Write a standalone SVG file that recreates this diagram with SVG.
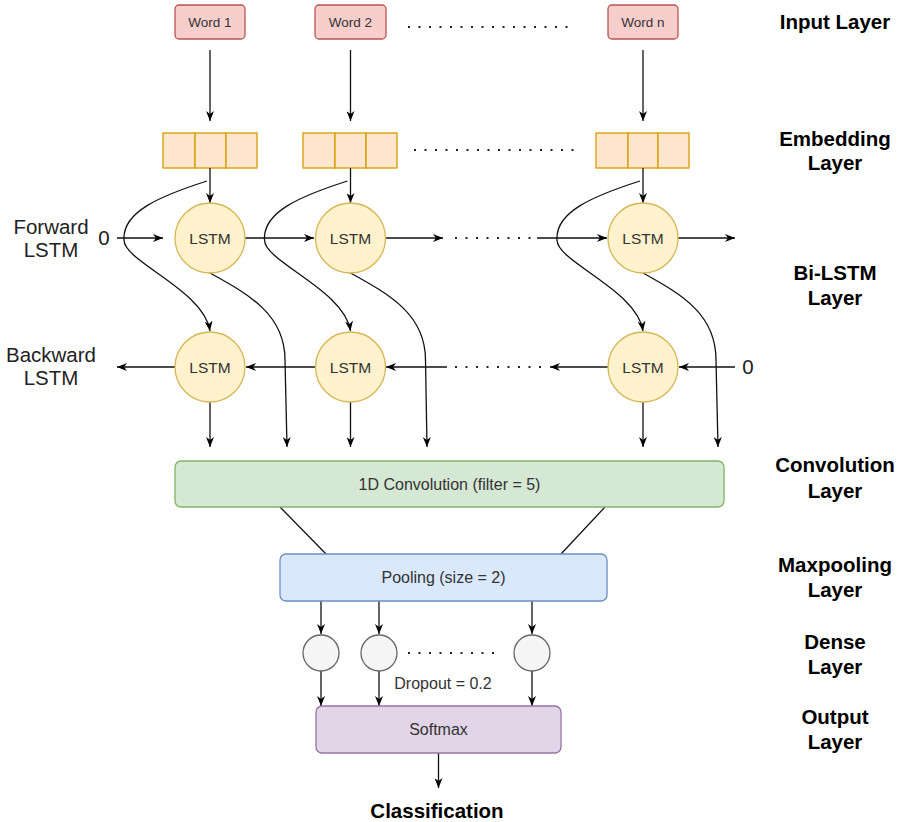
<svg xmlns="http://www.w3.org/2000/svg" width="900" height="822" viewBox="0 0 900 822">
<defs>
<marker id="ah" viewBox="0 0 10 8" refX="10" refY="4" markerWidth="10" markerHeight="8" markerUnits="userSpaceOnUse" orient="auto"><path d="M0,0 L10,4 L0,8 L3,4 z" fill="#000"/></marker>
<style>
text{font-family:"Liberation Sans",Arial,sans-serif;}
.word{fill:#f8cecc;stroke:#b85450;stroke-width:1.3;}
.emb{fill:#ffe6cc;stroke:#d79b00;stroke-width:1.3;}
.lstm{fill:#fff2cc;stroke:#d6b656;stroke-width:1.3;}
.conv{fill:#d5e8d4;stroke:#82b366;stroke-width:1.3;}
.pool{fill:#dae8fc;stroke:#6c8ebf;stroke-width:1.3;}
.dense{fill:#f5f5f5;stroke:#666666;stroke-width:1.3;}
.soft{fill:#e1d5e7;stroke:#9673a6;stroke-width:1.3;}
.wt{font-size:13.5px;fill:#333;text-anchor:middle;}
.lt{font-size:15.5px;fill:#333;text-anchor:middle;}
.nt{font-size:16px;fill:#333;text-anchor:middle;}
.lab{font-size:20.5px;font-weight:bold;fill:#000;text-anchor:middle;}
.side{font-size:20.5px;fill:#222;text-anchor:middle;}
.c{fill:none;stroke:#111;stroke-width:1.3;}
.a{fill:none;stroke:#111;stroke-width:1.3;marker-end:url(#ah);}
.dot{fill:none;stroke:#222;stroke-width:2;stroke-dasharray:2 8.5;}
</style>
</defs>
<rect width="900" height="822" fill="#fff"/>

<g id="word1"><rect class="word" x="175" y="5" width="70" height="34" rx="4"/><text class="wt" x="210" y="27">Word 1</text></g>
<g id="word2"><rect class="word" x="315" y="5" width="71" height="34" rx="4"/><text class="wt" x="350.5" y="27">Word 2</text></g>
<g id="wordn"><rect class="word" x="608" y="5" width="70" height="34" rx="4"/><text class="wt" x="643" y="27">Word n</text></g>

<g id="emb1"><rect class="emb" x="163" y="133" width="32" height="35"/><rect class="emb" x="195" y="133" width="31" height="35"/><rect class="emb" x="226" y="133" width="31" height="35"/></g>
<g id="emb2"><rect class="emb" x="303" y="133" width="32" height="35"/><rect class="emb" x="335" y="133" width="31" height="35"/><rect class="emb" x="366" y="133" width="31" height="35"/></g>
<g id="embn"><rect class="emb" x="596" y="133" width="32" height="35"/><rect class="emb" x="628" y="133" width="30" height="35"/><rect class="emb" x="658" y="133" width="31" height="35"/></g>

<g id="connectors">
<path class="a" d="M210,50 V121"/>
<path class="a" d="M350.5,50 V121"/>
<path class="a" d="M643,50 V121"/>
<path class="dot" d="M408,27 H572"/>
<path class="dot" d="M414,150 H578"/>

<path class="a" d="M210,168 V203"/>
<path class="a" d="M350.5,168 V203"/>
<path class="a" d="M643,168 V203"/>

<path class="a" d="M207,181 C160,196 122,212 124,240 C124,262 204,290 210,331"/>
<path class="a" d="M347.5,181 C300.5,196 262.5,212 264.5,240 C264.5,262 344.5,290 350.5,331"/>
<path class="a" d="M640,181 C593,196 555,212 557,240 C557,262 637,290 643,331"/>

<path class="a" d="M210,273 C250,295 285,315 285,360 L287,447"/>
<path class="a" d="M350.5,273 C390.5,295 425.5,315 425.5,360 L427,447"/>
<path class="a" d="M643,273 C683,295 716,315 716,360 L718,447"/>

<path class="a" d="M210,402 V447"/>
<path class="a" d="M350.5,402 V447"/>
<path class="a" d="M643,402 V447"/>

<path class="a" d="M117,238 H163"/>
<path class="a" d="M245,238 H314"/>
<path class="a" d="M385.5,238 H443"/>
<path class="dot" d="M455,238 H534"/>
<path class="a" d="M537,238 H607"/>
<path class="a" d="M678,238 H735"/>

<path class="a" d="M735,367 H679"/>
<path class="a" d="M608,367 H550"/>
<path class="dot" d="M455,367 H544"/>
<path class="a" d="M447,367 H386"/>
<path class="a" d="M315.5,367 H246"/>
<path class="a" d="M175,367 H117"/>

<path class="c" d="M280,507 L327,555"/>
<path class="c" d="M605,507 L561,554"/>

<path class="a" d="M321,601 V634"/>
<path class="a" d="M379,601 V634"/>
<path class="a" d="M532,601 V634"/>
<path class="dot" d="M408,653 H498"/>
<path class="a" d="M321,671 V706"/>
<path class="a" d="M379,671 V706"/>
<path class="a" d="M532,671 V706"/>
<path class="a" d="M438.5,753 V788"/>
</g>

<g id="lstm_f1"><circle class="lstm" cx="210" cy="238" r="35"/><text class="lt" x="210" y="243.5">LSTM</text></g>
<g id="lstm_f2"><circle class="lstm" cx="350.5" cy="238" r="35"/><text class="lt" x="350.5" y="243.5">LSTM</text></g>
<g id="lstm_fn"><circle class="lstm" cx="643" cy="238" r="35"/><text class="lt" x="643" y="243.5">LSTM</text></g>
<g id="lstm_b1"><circle class="lstm" cx="210" cy="367" r="35"/><text class="lt" x="210" y="372.5">LSTM</text></g>
<g id="lstm_b2"><circle class="lstm" cx="350.5" cy="367" r="35"/><text class="lt" x="350.5" y="372.5">LSTM</text></g>
<g id="lstm_bn"><circle class="lstm" cx="643" cy="367" r="35"/><text class="lt" x="643" y="372.5">LSTM</text></g>

<g id="conv"><rect class="conv" x="175" y="461" width="549" height="46" rx="6"/><text class="nt" x="449.5" y="490">1D Convolution (filter = 5)</text></g>
<g id="pool"><rect class="pool" x="280" y="554" width="327" height="47" rx="6"/><text class="nt" x="443.5" y="583">Pooling (size = 2)</text></g>
<g id="dense1"><circle class="dense" cx="321" cy="653" r="18"/></g>
<g id="dense2"><circle class="dense" cx="379" cy="653" r="18"/></g>
<g id="densen"><circle class="dense" cx="532" cy="653" r="18"/></g>
<g id="dropout"><text class="nt" x="443" y="689">Dropout = 0.2</text></g>
<g id="softmax"><rect class="soft" x="316" y="706" width="245" height="47" rx="6"/><text class="nt" x="438.5" y="735">Softmax</text></g>
<g id="classification"><text class="lab" x="437" y="818">Classification</text></g>

<g id="zero_f"><text class="side" x="104" y="245">0</text></g>
<g id="zero_b"><text class="side" x="748" y="374">0</text></g>
<g id="fwd_label"><text class="side" x="51" y="234">Forward</text><text class="side" x="51" y="257">LSTM</text></g>
<g id="bwd_label"><text class="side" x="51" y="362">Backward</text><text class="side" x="51" y="385">LSTM</text></g>

<g id="layer_labels">
<text class="lab" x="835" y="29">Input Layer</text>
<text class="lab" x="835" y="146">Embedding</text><text class="lab" x="835" y="170">Layer</text>
<text class="lab" x="835" y="280">Bi-LSTM</text><text class="lab" x="835" y="305">Layer</text>
<text class="lab" x="835" y="472">Convolution</text><text class="lab" x="835" y="498">Layer</text>
<text class="lab" x="835" y="572">Maxpooling</text><text class="lab" x="835" y="597">Layer</text>
<text class="lab" x="835" y="649">Dense</text><text class="lab" x="835" y="674">Layer</text>
<text class="lab" x="835" y="724">Output</text><text class="lab" x="835" y="749">Layer</text>
</g>
</svg>
